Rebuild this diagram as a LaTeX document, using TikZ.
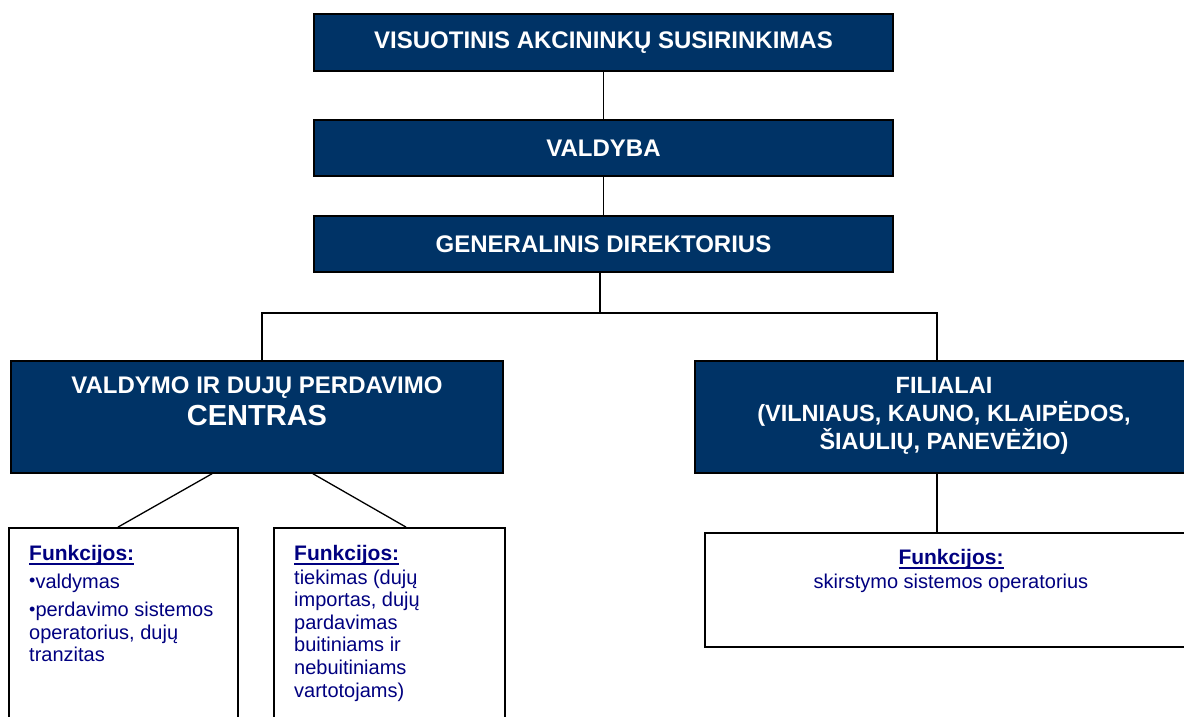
\documentclass[tikz,border=0pt]{standalone}
\usepackage{fontspec}
\setmainfont{Liberation Sans}
\usetikzlibrary{calc}
\definecolor{darkbox}{HTML}{003366}
\definecolor{navytext}{HTML}{000080}
\newcommand{\fnkhead}{{\fontsize{21}{22.6}\selectfont\setbox0\hbox{\textbf{Funkcijos:}}\rlap{\rule[-4.5pt]{\wd0}{2.2pt}}\box0}}
\newcommand{\smbul}{\raisebox{1.5pt}{\fontsize{18}{18}\selectfont•}}
\begin{document}
\begin{tikzpicture}[x=1pt,y=-1pt,
  dark/.style={draw=black, line width=1.5pt, fill=darkbox, text=white, font=\fontsize{24}{28}\selectfont\bfseries, inner sep=0pt, align=center},
  darktext/.style={text=white, font=\fontsize{24}{28}\selectfont\bfseries, inner sep=0pt, align=center},
  wbox/.style={draw=black, line width=1.8pt, fill=white, inner sep=0pt},
  wtext/.style={text=navytext, font=\fontsize{20}{22.6}\selectfont, align=left, inner sep=0pt, anchor=north west},
  conn/.style={draw=black, line width=1.3pt}
]
\useasboundingbox (0,0) rectangle (1184,717);
\clip (0,0) rectangle (1184,717);
\fill[white] (0,0) rectangle (1184,717);

\node[dark, minimum width=579pt, minimum height=57pt] (vas) at (603.5,42.5) {VISUOTINIS AKCININKŲ SUSIRINKIMAS};
\node[dark, minimum width=579pt, minimum height=56pt] (val) at (603.5,148) {VALDYBA};
\node[dark, minimum width=579pt, minimum height=56pt] (gen) at (603.5,244) {GENERALINIS DIREKTORIUS};

\node[dark, minimum width=492pt, minimum height=112pt] (ldark) at (257,417) {};
\node[darktext, anchor=north] (ltxt) at (257,377) {VALDYMO IR DUJŲ PERDAVIMO\\[4pt]{\fontsize{29}{31}\selectfont CENTRAS}};

\node[dark, minimum width=495pt, minimum height=112pt] (rdark) at (942.5,417) {};
\node[darktext, anchor=north, font=\fontsize{23.5}{28}\selectfont\bfseries] (rtxt) at (944,377) {FILIALAI\\(VILNIAUS, KAUNO, KLAIPĖDOS,\\ŠIAULIŲ, PANEVĖŽIO)};

\node[wbox, minimum width=229pt, minimum height=197pt] (lw) at (123.5,626.5) {};
\node[wbox, minimum width=231pt, minimum height=197pt] (mw) at (389.5,626.5) {};
\node[wbox, minimum width=485pt, minimum height=114pt] (rw) at (947.5,590) {};

\node[wtext] (lwt) at (29,545) {\fnkhead\\[5pt]\smbul valdymas\\[6pt]\smbul perdavimo sistemos\\operatorius, dujų\\tranzitas};
\node[wtext] (mwt) at (294,545) {\fnkhead\\[1pt]tiekimas (dujų\\importas, dujų\\pardavimas\\buitiniams ir\\nebuitiniams\\vartotojams)};
\node[wtext, anchor=north, align=center] (rwt) at (951,549) {\fnkhead\\[1pt]skirstymo sistemos operatorius};

\coordinate (bl) at (262,313);
\coordinate (br) at (937,313);
\draw[conn] (vas.south) -- (val.north);
\draw[conn] (val.south) -- (gen.north);
\draw[conn] ($(gen.south)+(-3.5,0)$) -- ($(gen.south |- bl)+(-3.5,0)$);
\draw[conn] (ldark.north -| bl) -- (bl) -- (br) -- (rdark.north -| br);
\draw[conn] ($(ldark.south)+(-45,0)$) -- ($(lw.north)+(-5.5,0)$);
\draw[conn] ($(ldark.south)+(56,0)$) -- ($(mw.north)+(16.5,0)$);
\draw[conn] (rdark.south -| br) -- (rw.north -| br);
\end{tikzpicture}
\end{document}
